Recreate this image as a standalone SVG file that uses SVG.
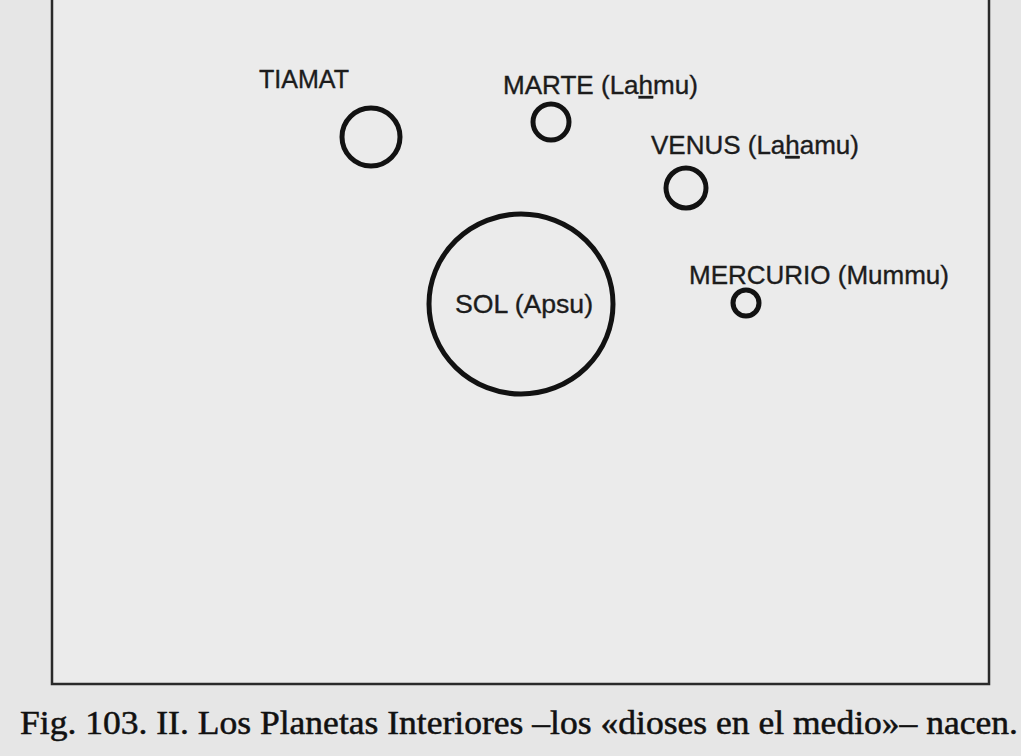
<svg xmlns="http://www.w3.org/2000/svg" width="1021" height="756" viewBox="0 0 1021 756">
<style>
.lbl{font-family:"Liberation Sans",Arial,sans-serif;font-size:25px;fill:#1c1c1c;stroke:#1c1c1c;stroke-width:0.35}
.pl{fill:none;stroke:#121212;stroke-width:5}
.cap{font-family:"Liberation Serif","Times New Roman",serif;font-size:33px;fill:#111;stroke:#111;stroke-width:0.5}
.u{text-decoration:underline}
</style>
<rect x="0" y="0" width="1021" height="756" fill="#e6e6e6"/>
<rect x="52" y="-10" width="937" height="694" fill="#ebebeb" stroke="#2a2a2a" stroke-width="2.5"/>
<g id="tiamat">
<circle class="pl" cx="371" cy="137" r="29"/>
<text class="lbl" x="259" y="88" textLength="90" lengthAdjust="spacingAndGlyphs">TIAMAT</text>
</g>
<g id="marte">
<circle class="pl" cx="551" cy="122" r="18"/>
<text class="lbl" x="503" y="94" textLength="195" lengthAdjust="spacingAndGlyphs">MARTE (La<tspan class="u">h</tspan>mu)</text>
</g>
<g id="venus">
<circle class="pl" cx="686" cy="188" r="20"/>
<text class="lbl" x="651" y="154" textLength="208" lengthAdjust="spacingAndGlyphs">VENUS (La<tspan class="u">h</tspan>amu)</text>
</g>
<g id="sol">
<ellipse class="pl" cx="521" cy="304" rx="92" ry="90" stroke-width="4.5"/>
<text class="lbl" x="455" y="313" textLength="138" lengthAdjust="spacingAndGlyphs">SOL (Apsu)</text>
</g>
<g id="mercurio">
<circle class="pl" cx="746" cy="303" r="13"/>
<text class="lbl" x="689" y="284" textLength="260" lengthAdjust="spacingAndGlyphs">MERCURIO (Mummu)</text>
</g>
<g id="connectors"></g>
<text class="cap" x="20" y="734" textLength="998" lengthAdjust="spacingAndGlyphs">Fig. 103. II. Los Planetas Interiores –los «dioses en el medio»– nacen.</text>
</svg>
